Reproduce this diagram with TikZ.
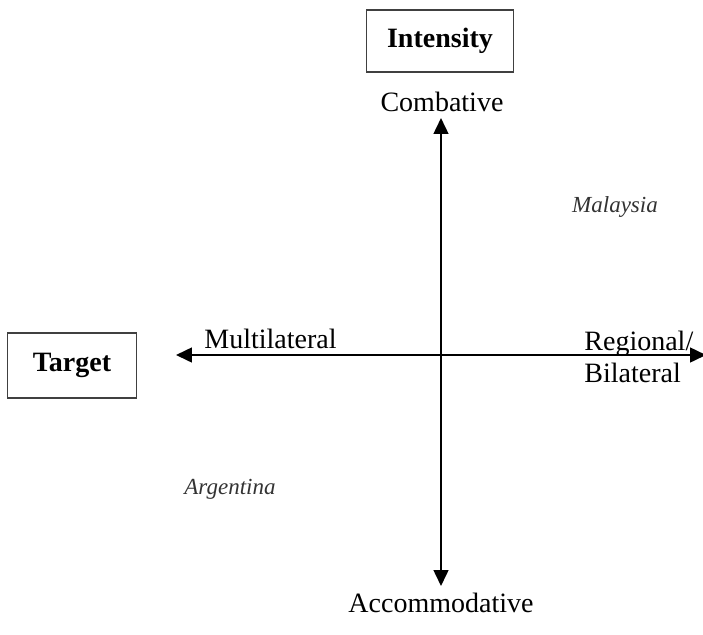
\documentclass[tikz,border=0pt]{standalone}
\usepackage{fontspec}
\setmainfont{Liberation Serif}
\usetikzlibrary{arrows.meta}
\tikzset{
  hb/.style={draw=black!75, line width=0.8pt, fill=white, inner sep=0pt,
             font=\fontsize{14}{16}\selectfont\bfseries},          % heading box
  pole/.style={font=\fontsize{14}{16}\selectfont, inner sep=0pt},  % axis end label
  ctry/.style={font=\fontsize{11.5}{13}\selectfont\itshape, text=black!80, inner sep=0pt},
  ax/.style={draw=black, line width=1pt, {Triangle[length=2.8mm,width=2.6mm]}-{Triangle[length=2.8mm,width=2.6mm]}},
}

\begin{document}
\begin{tikzpicture}[x=0.5pt, y=-0.5pt]
  \useasboundingbox (0,0) rectangle (703,634);
  \node[hb, minimum width=73.5pt, minimum height=31pt] (int) at (440,41) {Intensity};
  \node[hb, minimum width=64.5pt, minimum height=32.5pt] (tgt) at (72,365.5) {Target};
  \node[pole] (comb) at (442,102) {Combative};
  \node[pole] (acc) at (441,603) {Accommodative};
  \node[pole, anchor=west] (multi) at (204,339) {Multilateral};
  \node[pole, anchor=west, align=left] (reg) at (584,357) {Regional/\\Bilateral};
  \node[ctry] (mal) at (615,207) {Malaysia};
  \node[ctry] (arg) at (230,489) {Argentina};
  \coordinate (top) at (441,118);
  \coordinate (bot) at (441,586);
  \coordinate (lft) at (176,355);
  \coordinate (rgt) at (706,355);
  \draw[ax] (bot) -- (top);
  \draw[ax] (lft) -- (rgt);
\end{tikzpicture}
\end{document}
